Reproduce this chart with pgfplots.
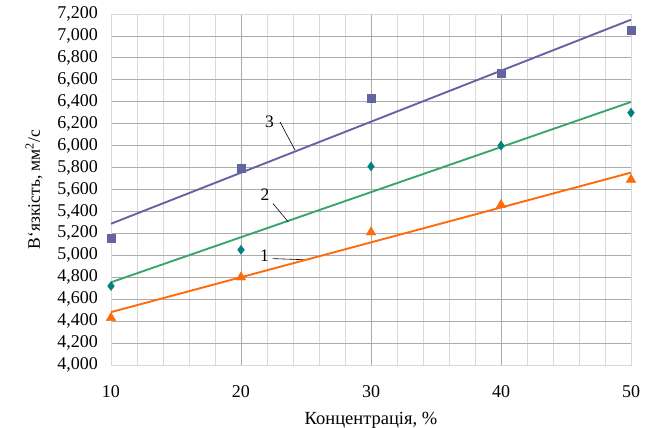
\documentclass[border=0pt]{standalone}
\usepackage{fontspec}
\setmainfont{Liberation Serif}
\usepackage{pgfplots}
\pgfplotsset{compat=1.18}
\definecolor{sThree}{HTML}{6464A2}
\definecolor{sTwoM}{HTML}{008080}
\definecolor{sTwoL}{HTML}{3AA56B}
\definecolor{sOne}{HTML}{FF6A0A}
\begin{document}
\fontsize{17.5bp}{21bp}\selectfont
\begin{tikzpicture}
\begin{axis}[
  scale only axis,
  width=520bp, height=351bp,
  at={(0,0)}, anchor=south west,
  xmin=10, xmax=50, ymin=4, ymax=7.2,
  xtick={10,20,30,40,50},
  minor x tick num=4,
  ytick={4,4.2,...,7.21},
  yticklabel style={/pgf/number format/fixed,/pgf/number format/fixed zerofill,/pgf/number format/precision=3,/pgf/number format/use comma,/pgf/number format/assume math mode=true, xshift=-7bp},
  xticklabel style={/pgf/number format/assume math mode=true, yshift=-14bp},
  major tick length=0pt, minor tick length=0pt,
  grid=both,
  major grid style={color=black!33, line width=0.8pt},
  minor grid style={color=black!15, line width=0.9pt},
  axis line style={color=black!15, line width=0.9pt},
  xlabel={Концентрація, \%},
  ylabel={В{\char"60}язкість, мм\textsuperscript{2}/с},
  xlabel style={yshift=-3bp, font=\fontsize{18.5bp}{22bp}\selectfont},
  ylabel style={yshift=3bp, font=\fontsize{17.5bp}{21bp}\selectfont},
  tick label style={font=\fontsize{18bp}{21bp}\selectfont},
  clip=false,
]
% trend lines
\addplot[sThree, line width=1.9bp, no marks] coordinates {(10,5.288) (50,7.148)};
\addplot[sTwoL, line width=1.9bp, no marks] coordinates {(10,4.754) (50,6.398)};
\addplot[sOne, line width=1.9bp, no marks] coordinates {(10,4.482) (50,5.754)};
% data points
\addplot[only marks, mark=square*, mark size=4bp, color=sThree] coordinates {(10,5.16) (20,5.79) (30,6.43) (40,6.66) (50,7.05)};
\addplot[only marks, mark=diamond*, mark size=4.5bp, color=sTwoM] coordinates {(10,4.72) (20,5.05) (30,5.81) (40,6.00) (50,6.30)};
\addplot[only marks, mark=triangle*, mark size=5.5bp, color=sOne] coordinates {(10,4.43) (20,4.80) (30,5.21) (40,5.46) (50,5.69)};
% annotations
\draw[black, line width=0.6pt] (axis cs:23.0,6.216) -- (axis cs:24.15,5.96);
\node at (axis cs:22.2,6.218) {3};
\draw[black, line width=0.6pt] (axis cs:22.46,5.472) -- (axis cs:23.64,5.304);
\node at (axis cs:21.85,5.548) {2};
\draw[black, line width=0.6pt] (axis cs:22.44,4.97) -- (axis cs:24.79,4.96);
\node at (axis cs:21.8,5.0) {1};
\end{axis}
\pgfresetboundingbox
\path[use as bounding box] (-111bp,-63bp) rectangle (543bp,365bp);
\end{tikzpicture}
\end{document}
